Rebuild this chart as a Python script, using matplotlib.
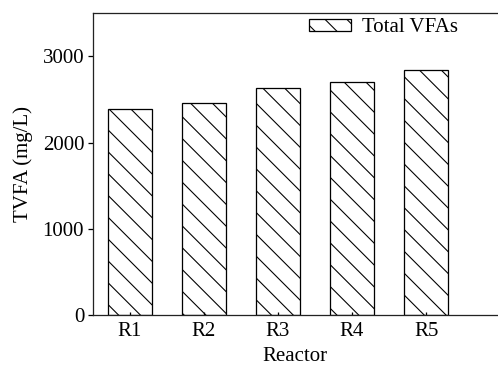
import matplotlib
matplotlib.use('Agg')
import matplotlib.pyplot as plt
import numpy as np

# reactor names and total VFA concentration (mg/L)
reactors = ['R1', 'R2', 'R3', 'R4', 'R5']
tvfa = [2390, 2460, 2630, 2700, 2840]

plt.rcParams['font.family'] = ['Liberation Serif', 'DejaVu Serif']
plt.rcParams['font.size'] = 11.5
plt.rcParams['hatch.linewidth'] = 0.6

dpi = 131
fig = plt.figure(figsize=(498 / dpi, 365 / dpi), dpi=dpi)
ax = fig.add_axes([92.7 / 498, 49.7 / 365, 1 - 92.7 / 498, 302 / 365])

x = np.arange(len(reactors))
ax.bar(x, tvfa, width=0.6, color='white', edgecolor='black', linewidth=0.7,
       hatch='\\\\', label='Total VFAs')

ax.set_xlim(-0.5, 4.97)
ax.set_ylim(0, 3500)
ax.set_xticks(x)
ax.set_xticklabels(reactors)
ax.set_yticks([0, 1000, 2000, 3000])

ax.spines['right'].set_visible(False)
for s in ['left', 'top', 'bottom']:
    ax.spines[s].set_linewidth(0.7)
    ax.spines[s].set_color('#222222')

ax.tick_params(axis='y', direction='out', length=2.7, width=0.7, pad=2)
ax.tick_params(axis='x', direction='in', length=1.6, width=0.7, pad=3.5)

ax.set_xlabel('Reactor', labelpad=3.3)
ax.set_ylabel('TVFA (mg/L)', labelpad=5)

ax.legend(loc='center left', bbox_to_anchor=(309 / 498, (365 - 28) / 365),
          bbox_transform=fig.transFigure, frameon=False, borderpad=0,
          borderaxespad=0, handlelength=2.0, handleheight=0.5,
          handletextpad=0.55)

fig.savefig('out.png', dpi=dpi)
